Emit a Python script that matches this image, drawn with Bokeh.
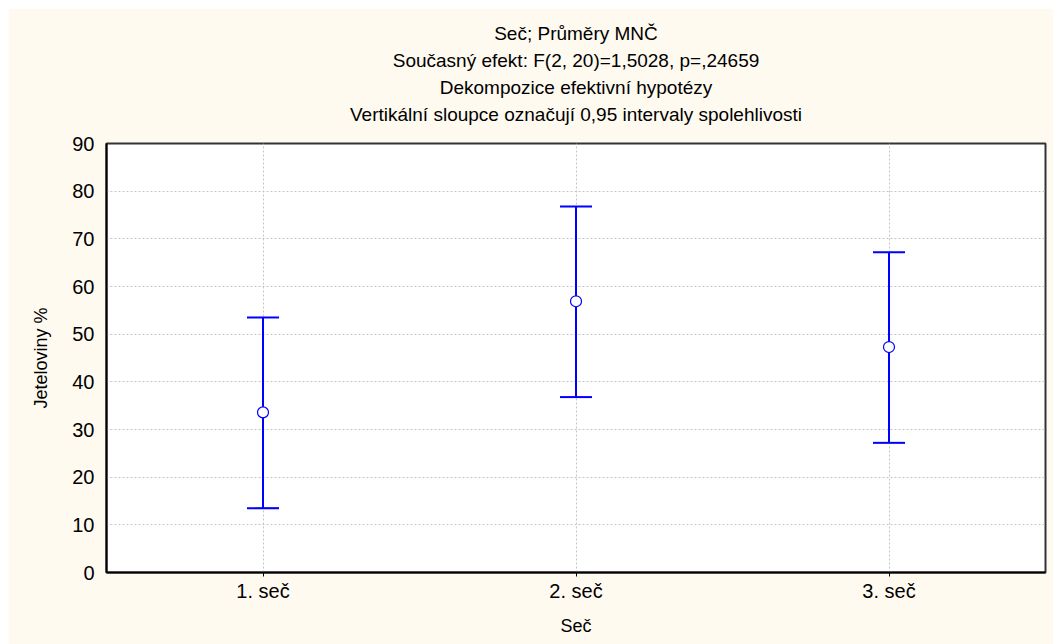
from bokeh.plotting import figure
from bokeh.models import (ColumnDataSource, Range1d, FixedTicker, Whisker, TeeHead,
                          Title, Spacer)
from bokeh.layouts import column, row
from bokeh.embed import file_html
from bokeh.resources import INLINE

categories = ["1. seč", "2. seč", "3. seč"]
means = [33.6, 56.9, 47.3]
lower = [13.5, 36.8, 27.2]
upper = [53.5, 76.8, 67.2]
y_ticks = [0, 10, 20, 30, 40, 50, 60, 70, 80, 90]
titles = [
    "Seč; Průměry MNČ",
    "Současný efekt: F(2, 20)=1,5028, p=,24659",
    "Dekompozice efektivní hypotézy",
    "Vertikální sloupce označují 0,95 intervaly spolehlivosti",
]

FONT = "Liberation Sans"
CREAM = "#FFFAF0"
BLUE = "#0000FF"

src = ColumnDataSource(dict(cat=categories, mean=means, lower=lower, upper=upper))

p = figure(width=1045, height=636, x_range=categories, y_range=Range1d(0, 90),
           output_backend="svg", toolbar_location=None,
           min_border_left=98, min_border_right=8, min_border_top=135,
           min_border_bottom=72)
p.x_range.range_padding = 0
p.background_fill_color = "white"
p.border_fill_color = CREAM
p.outline_line_color = "#333333"
p.outline_line_width = 2

# invisible spacer between frame and the title block
p.add_layout(Title(text=" ", text_font=FONT, text_font_size="10px",
                   text_color=CREAM, standoff=4), "above")
# titles (added bottom-most first)
for t in reversed(titles):
    p.add_layout(Title(text=t, align="center", text_font=FONT, text_font_size="19px",
                       text_font_style="normal", text_color="black",
                       standoff=4), "above")

# grid
for g in (p.xgrid, p.ygrid):
    g.grid_line_color = "#C4C4C4"
    g.grid_line_dash = "2 2"
    g.grid_line_width = 1
p.ygrid.ticker = FixedTicker(ticks=y_ticks)

# axes
p.yaxis.ticker = FixedTicker(ticks=y_ticks)
p.yaxis.axis_label = "Jeteloviny %"
p.xaxis.axis_label = "Seč"
for ax in (p.xaxis, p.yaxis):
    ax.axis_line_color = "black"
    ax.axis_line_width = 2
    ax.major_label_text_font = FONT
    ax.major_label_text_font_size = "20px"
    ax.major_label_text_color = "black"
    ax.axis_label_text_font = FONT
    ax.axis_label_text_font_size = "18px"
    ax.axis_label_text_font_style = "normal"
    ax.axis_label_text_color = "black"
    ax.minor_tick_line_color = None
p.yaxis.major_tick_line_color = None
p.yaxis.major_label_standoff = 6
p.yaxis.axis_label_standoff = 18
p.xaxis.major_tick_in = 0
p.xaxis.major_tick_out = 4
p.xaxis.major_tick_line_color = "black"
p.xaxis.major_label_standoff = 3
p.xaxis.axis_label_standoff = 11

# error bars
w = Whisker(source=src, base="cat", upper="upper", lower="lower",
            line_color=BLUE, line_width=2,
            upper_head=TeeHead(size=32, line_color=BLUE, line_width=2),
            lower_head=TeeHead(size=32, line_color=BLUE, line_width=2))
p.add_layout(w)

p.scatter(x="cat", y="mean", source=src, marker="circle", size=11,
          fill_color="white", line_color=BLUE, line_width=1.2)

layout = column(Spacer(height=8, width=1053),
                row(Spacer(width=8, height=636), p))

open("out.html", "w").write(file_html(layout, INLINE))
